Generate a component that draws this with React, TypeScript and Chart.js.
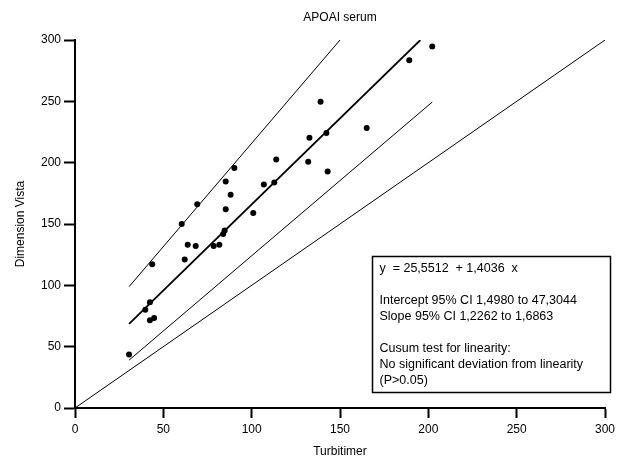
import React, { useEffect, useRef } from 'react';
import { Chart, registerables } from 'chart.js';

Chart.register(...registerables);

// Measured points: Turbitimer (x) vs Dimension Vista (y)
const turbitimer = [
  30.6, 39.8, 42.4, 42.4, 44.8, 43.7, 60.4, 62.1, 63.8, 68.3, 69.2, 78.5, 81.7, 83.9, 84.7, 85.3,
  85.3, 88.1, 90.2, 100.9, 106.9, 112.8, 113.9, 132.0, 132.7, 139.0, 142.3, 143.0, 165.1, 189.2, 202.2,
];
const dimensionVista = [
  43.6, 80.0, 86.2, 71.5, 73.4, 117.1, 150.0, 121.0, 133.0, 132.0, 166.0, 132.0, 133.0, 141.8, 144.8, 162.0,
  184.7, 173.9, 195.6, 159.0, 182.2, 183.9, 202.6, 200.7, 220.3, 249.6, 224.1, 192.8, 228.2, 283.5, 294.6,
];

// Line end points
const regressionX = [30.6, 195.5];
const regressionY = [68.5, 300];
const upperCiX = [30.6, 150.0];
const upperCiY = [98.9, 300];
const lowerCiX = [30.6, 202.2];
const lowerCiY = [39.0, 249.4];
const identityX = [0, 300];
const identityY = [0, 300];

const axisMin = 0;
const axisMax = 300;
const axisStep = 50;

const titleText = 'APOAI serum';
const xTitle = 'Turbitimer';
const yTitle = 'Dimension Vista';

const statsLines = [
  'y  = 25,5512  + 1,4036  x',
  '',
  'Intercept 95% CI 1,4980 to 47,3044',
  'Slope 95% CI 1,2262 to 1,6863',
  '',
  'Cusum test for linearity:',
  'No significant deviation from linearity',
  '(P>0.05)',
];
// Box anchor in data units
const boxXRange = [168.1, 302.8];
const boxYRange = [124.2, 13.4];

const FONT = '"Liberation Sans", Arial, Helvetica, sans-serif';

const toXY = (xs: number[], ys: number[]) => xs.map((x, i) => ({ x, y: ys[i] }));

const statsBoxPlugin = {
  id: 'statsBox',
  afterDraw(chart: any) {
    const { ctx, scales } = chart;
    const xs = scales.x;
    const ys = scales.y;
    const l = Math.round(xs.getPixelForValue(boxXRange[0])) + 0.5;
    const r = Math.round(xs.getPixelForValue(boxXRange[1])) + 0.5;
    const t = Math.round(ys.getPixelForValue(boxYRange[0])) + 0.5;
    const b = Math.round(ys.getPixelForValue(boxYRange[1])) + 0.5;
    ctx.save();
    ctx.fillStyle = '#ffffff';
    ctx.fillRect(l, t, r - l, b - t);
    ctx.strokeStyle = '#000000';
    ctx.lineWidth = 1.5;
    ctx.strokeRect(l, t, r - l, b - t);
    ctx.fillStyle = '#000000';
    ctx.font = `12.5px ${FONT}`;
    ctx.textBaseline = 'middle';
    ctx.textAlign = 'left';
    statsLines.forEach((s, i) => {
      if (s) ctx.fillText(s, l + 7, t + 12 + i * 16);
    });
    ctx.restore();
  },
};

export default function App() {
  const canvasRef = useRef<HTMLCanvasElement | null>(null);

  useEffect(() => {
    if (!canvasRef.current) return;
    const tickFont = { family: FONT, size: 12 };
    const chart = new Chart(canvasRef.current, {
      type: 'scatter',
      data: {
        datasets: [
          {
            label: 'points',
            data: toXY(turbitimer, dimensionVista),
            backgroundColor: '#000',
            borderColor: '#000',
            pointRadius: 3,
            pointBorderWidth: 0,
            showLine: false,
          },
          {
            label: 'regression',
            data: toXY(regressionX, regressionY),
            showLine: true,
            borderColor: '#000',
            borderWidth: 1.8,
            pointRadius: 0,
          },
          {
            label: 'upper',
            data: toXY(upperCiX, upperCiY),
            showLine: true,
            borderColor: '#000',
            borderWidth: 1,
            pointRadius: 0,
          },
          {
            label: 'lower',
            data: toXY(lowerCiX, lowerCiY),
            showLine: true,
            borderColor: '#000',
            borderWidth: 1,
            pointRadius: 0,
          },
          {
            label: 'identity',
            data: toXY(identityX, identityY),
            showLine: true,
            borderColor: '#000',
            borderWidth: 1,
            pointRadius: 0,
          },
        ],
      },
      options: {
        animation: false,
        responsive: false,
        maintainAspectRatio: false,
        layout: { padding: { left: 0, right: 15, top: 0, bottom: 0 } },
        plugins: {
          legend: { display: false },
          tooltip: { enabled: false },
          title: {
            display: true,
            fullSize: false,
            text: titleText,
            color: '#000',
            font: { family: FONT, size: 12, weight: 'normal' },
            padding: { top: 10, bottom: 15.6 },
          },
        },
        scales: {
          x: {
            type: 'linear',
            min: axisMin,
            max: axisMax,
            ticks: { stepSize: axisStep, color: '#000', font: tickFont, padding: 4, maxRotation: 0 },
            grid: {
              display: true,
              drawOnChartArea: false,
              drawTicks: true,
              tickLength: 10,
              tickWidth: 2,
              tickColor: '#000',
            },
            border: { display: true, color: '#000', width: 2 },
            title: {
              display: true,
              text: xTitle,
              color: '#000',
              font: tickFont,
              padding: { top: 0, bottom: 3 },
            },
            afterFit: (s: any) => {
              s.height = 54;
            },
          },
          y: {
            type: 'linear',
            min: axisMin,
            max: axisMax,
            ticks: { stepSize: axisStep, color: '#000', font: tickFont, padding: 3 },
            grid: {
              display: true,
              drawOnChartArea: false,
              drawTicks: true,
              tickLength: 11,
              tickWidth: 2,
              tickColor: '#000',
            },
            border: { display: true, color: '#000', width: 2 },
            title: {
              display: true,
              text: yTitle,
              color: '#000',
              font: tickFont,
              padding: { top: 13, bottom: 0 },
            },
            afterFit: (s: any) => {
              s.width = 75;
            },
          },
        },
      },
      plugins: [statsBoxPlugin],
    } as any);
    return () => chart.destroy();
  }, []);

  return (
    <div style={{ position: 'absolute', left: 0, top: 0, width: 620, height: 462, background: '#fff' }}>
      <canvas ref={canvasRef} width={620} height={462} style={{ width: 620, height: 462, display: 'block' }} />
    </div>
  );
}
